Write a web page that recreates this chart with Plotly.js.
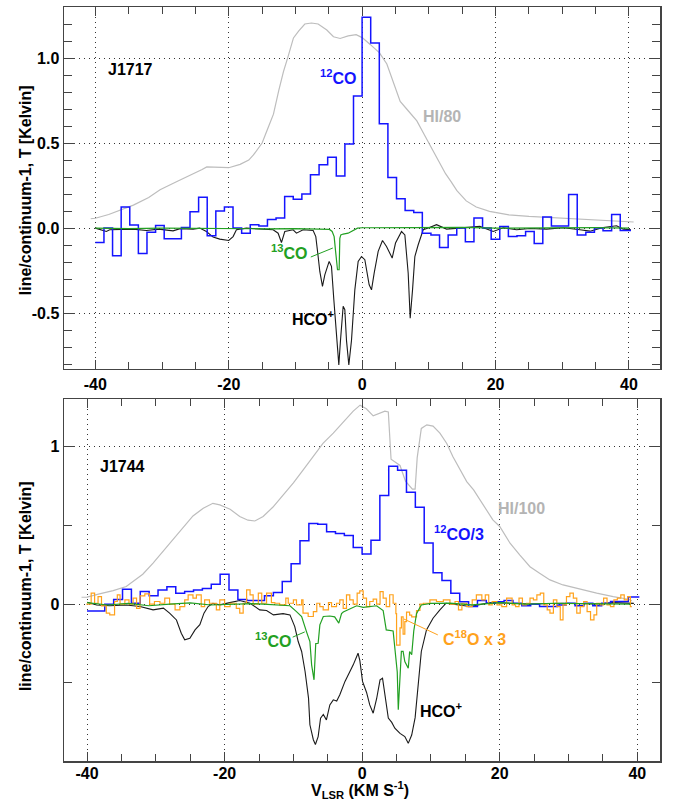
<!DOCTYPE html>
<html>
<head>
<meta charset="utf-8">
<script src="https://cdn.plot.ly/plotly-3.0.1.min.js"></script>
<style>html,body{margin:0;padding:0;background:#fff;}#plot{width:678px;height:803px;}</style>
</head>
<body>
<div id="plot"></div>
<script>
// ---------- shared CO channel grid (left bin edges, km/s) ----------
var coEdges = [-40.00,-38.71,-37.42,-36.13,-34.84,-33.55,-32.26,-30.97,-29.68,-28.39,-27.10,-25.81,-24.52,-23.23,-21.94,-20.65,-19.36,-18.07,-16.78,-15.49,-14.20,-12.91,-11.62,-10.33,-9.04,-7.75,-6.46,-5.17,-3.88,-2.59,-1.30,-0.01,1.28,2.57,3.86,5.15,6.44,7.73,9.02,10.31,11.60,12.89,14.18,15.47,16.76,18.05,19.34,20.63,21.92,23.21,24.50,25.79,27.08,28.37,29.66,30.95,32.24,33.53,34.82,36.11,37.40,38.69,40.30];

// ---------- J1717 (top panel) ----------
var j1717_co12 = [-0.084,0.0,-0.163,0.124,0.018,-0.15,-0.024,0.016,-0.063,-0.063,0.004,0.096,0.182,-0.045,0.1,0.124,0.0,-0.03,0.02,0.013,0.05,0.06,0.186,0.170,0.2,0.313,0.372,0.417,0.307,0.494,0.776,
  1.24,1.088,0.614,0.298,0.173,0.104,0.092,-0.03,-0.04,-0.114,-0.04,0.0,-0.08,0.06,0.0,-0.065,0.01,-0.05,-0.045,-0.02,-0.09,0.065,0.012,0.012,0.197,-0.04,-0.025,0.0,-0.015,0.08,-0.014,-0.014];

var j1717_hi_v = [-40.7,-40,-38,-36,-34.3,-32,-30.3,-28,-26.3,-24,-23.3,-21.5,-20,-18.3,-17,-16.3,-15,-14,-13.3,-12.5,-11.8,-11.1,-10.3,-9.5,-8.6,-7.6,-6.6,-5.3,-4.3,-3.3,-2.1,-0.9,0,1.2,2.6,3.7,4.7,5.7,6.9,8.2,9.3,10.3,11.5,12.5,13.3,14.2,15.6,17.1,19.1,22,25,30,35,40.7];
var j1717_hi_t = [0.055,0.058,0.08,0.11,0.135,0.18,0.225,0.27,0.30,0.345,0.36,0.355,0.355,0.375,0.40,0.43,0.50,0.60,0.67,0.81,0.92,1.01,1.118,1.16,1.20,1.206,1.2,1.165,1.125,1.115,1.13,1.137,1.12,1.08,1.03,0.965,0.85,0.745,0.69,0.63,0.55,0.48,0.39,0.32,0.275,0.22,0.16,0.124,0.098,0.078,0.069,0.059,0.049,0.036];

var j1717_hco_v = [-40,-38.35,-37.85,-36,-34.35,-32.35,-30.5,-28.35,-27.3,-25.35,-24.35,-23.35,-22.35,-21.35,-20,-19.35,-18.85,-17.35,-15.35,-13.35,-12.6,-12.1,-11.6,-10.35,-9.85,-8.85,-7.35,-6.95,-6.6,-6.35,-5.95,-5.6,-4.95,-4.6,-4.25,-3.85,-3.5,-3.25,-2.85,-2.6,-2.35,-2.0,-1.6,-1.1,-0.6,-0.1,0.4,1.05,1.4,1.8,2.4,3.05,3.65,4.5,5.0,5.9,6.4,6.9,7.2,7.55,7.9,8.4,9.15,9.9,11.15,12.65,15.15,17.65,19.65,21.15,23.15,25.15,27.65,30.15,32.65,34.15,36.15,38.15,39.15,40.3];
var j1717_hco_t = [0.0,-0.02,-0.01,-0.006,-0.006,-0.014,-0.006,-0.016,-0.003,-0.006,0.0,-0.02,-0.053,-0.065,-0.073,-0.05,-0.01,0.0,-0.006,-0.01,-0.03,-0.085,-0.02,-0.01,-0.03,-0.01,-0.014,-0.05,-0.167,-0.255,-0.343,-0.275,-0.196,-0.225,-0.42,-0.657,-0.804,-0.66,-0.46,-0.48,-0.66,-0.804,-0.66,-0.363,-0.196,-0.167,-0.186,-0.333,-0.363,-0.265,-0.137,-0.073,-0.108,-0.176,-0.088,-0.02,-0.04,-0.265,-0.53,-0.363,-0.167,-0.098,-0.01,0.0,0.02,-0.006,0.0,0.01,-0.02,0.002,-0.01,-0.002,-0.006,0.002,-0.01,-0.018,0.004,0.014,-0.006,-0.01];

var j1717_co13_v = [-40,-35,-30,-25,-20,-15,-10,-7,-4.9,-4.5,-4.2,-4.0,-3.8,-3.7,-3.45,-3.35,-3.2,-2.85,-2.1,-1.3,-0.7,0,5,10,15,20,25,30,35,40];
var j1717_co13_t = [0.0,-0.003,0.0,-0.002,0.0,-0.004,-0.003,-0.005,-0.008,-0.02,-0.05,-0.13,-0.2,-0.245,-0.245,-0.06,-0.04,-0.035,-0.03,-0.015,0.0,0.002,0.003,0.0,0.004,0.0,0.002,0.0,0.003,0.0];

// ---------- J1744 (bottom panel) ----------
var j1744_co12 = [-0.043,-0.043,0.0,0.03,0.095,0.006,0.08,0.053,0.09,0.11,0.07,0.08,0.09,0.1,0.127,0.19,0.09,0.03,0.023,0.023,0.053,0.074,0.144,0.256,0.403,0.512,0.508,0.46,0.448,0.436,0.36,
  0.319,0.405,0.69,0.875,0.85,0.71,0.615,0.388,0.2,0.15,0.07,0.015,-0.015,0.023,0.006,0.015,0.023,0.006,-0.01,0.0,-0.015,-0.015,-0.005,0.006,-0.01,0.006,-0.01,0.006,0.017,0.017,0.045,0.045];

var j1744_hi_v = [-40.8,-40,-38.2,-36.2,-34.3,-33.3,-31.9,-30.4,-29,-27.5,-26,-24.6,-23.1,-21.7,-20.7,-19.2,-17.8,-16.6,-15.6,-14.4,-13,-11.5,-10,-8.6,-7.1,-5.7,-4.2,-2.8,-1.3,-0.3,0.6,1.6,2.6,3.3,3.8,4.2,5.5,6.3,7.3,7.7,8.0,8.6,9.4,10.3,11.3,12.3,13.2,14.2,15.2,16.2,17.6,19.0,20,21.5,22.9,24.4,25.8,27.3,29.2,31.7,34.1,36.5,38.9,39.2];
var j1744_hi_t = [0.044,0.045,0.065,0.086,0.112,0.143,0.19,0.26,0.334,0.408,0.49,0.56,0.609,0.64,0.63,0.603,0.556,0.533,0.528,0.556,0.615,0.69,0.77,0.85,0.935,1.02,1.085,1.155,1.225,1.263,1.24,1.195,1.21,1.225,1.22,0.92,0.88,0.78,0.73,0.73,0.93,1.115,1.138,1.13,1.085,1.02,0.936,0.852,0.778,0.725,0.63,0.535,0.493,0.387,0.313,0.238,0.196,0.154,0.122,0.095,0.07,0.048,0.03,0.02];

var j1744_hco_v = [-40,-38.6,-36.7,-34.3,-32.3,-30.4,-28.9,-28.0,-27.0,-26.3,-25.8,-25.05,-24.3,-23.6,-23.0,-22.4,-21.7,-20.7,-19.25,-17.8,-16.3,-14.9,-13.9,-12.9,-11.5,-10.5,-9.8,-9.3,-8.8,-8.3,-7.8,-7.6,-7.1,-6.8,-6.4,-6.05,-5.65,-5.2,-4.7,-4.2,-3.7,-3.25,-2.5,-2.0,-1.3,-0.6,-0.33,0.05,0.64,1.1,1.6,2.1,2.6,2.96,3.3,3.8,4.3,4.75,5.5,6.2,6.7,7.2,7.7,8.15,8.6,9.35,10.3,11.3,12.2,13.25,15.7,18.6,21,24.4,29.2,34.1,36.5,38.9,39.5];
var j1744_hco_t = [0.012,-0.005,-0.01,-0.005,-0.015,-0.036,-0.025,-0.057,-0.1,-0.184,-0.226,-0.216,-0.163,-0.13,-0.057,-0.015,0.005,-0.004,0.01,0.023,0.006,-0.036,-0.04,-0.068,-0.06,-0.068,-0.142,-0.237,-0.30,-0.427,-0.596,-0.765,-0.86,-0.89,-0.84,-0.723,-0.70,-0.734,-0.639,-0.607,-0.615,-0.575,-0.49,-0.45,-0.385,-0.311,-0.36,-0.49,-0.56,-0.639,-0.692,-0.6,-0.48,-0.47,-0.58,-0.723,-0.75,-0.787,-0.82,-0.84,-0.883,-0.83,-0.72,-0.51,-0.30,-0.163,-0.089,-0.036,0.006,0.0,-0.015,0.01,0.006,0.001,0.006,0.001,0.01,0.006,0.005];

var j1744_co13_v = [-40,-37,-34,-31,-28,-25,-22,-19.2,-16,-14.4,-12,-10.5,-9.55,-8.8,-8.1,-7.6,-7.35,-7.0,-6.75,-6.4,-6.15,-5.65,-4.7,-4.0,-3.4,-3.0,-2.75,-1.8,-0.8,0.15,2.1,3.05,3.5,4.5,4.75,5.1,5.25,5.5,5.7,5.95,6.2,6.7,6.9,7.2,7.5,7.9,8.6,10,12.75,16,20,24,28,32,36,39];
var j1744_co13_t = [0.01,-0.005,0.005,-0.01,0.0,0.008,-0.005,0.0,0.004,0.0,-0.006,-0.01,-0.047,-0.078,-0.174,-0.237,-0.385,-0.48,-0.25,-0.248,-0.131,-0.078,-0.075,-0.08,-0.12,-0.06,-0.05,-0.03,-0.01,-0.02,-0.01,-0.04,-0.163,-0.17,-0.29,-0.43,-0.67,-0.45,-0.3,-0.3,-0.364,-0.406,-0.3,-0.32,-0.17,-0.06,-0.005,0.005,0.007,-0.004,0.01,0.0,0.006,0.003,0.002,0.0];

var j1744_c18o_v = [-40.1,-39.4,-38.9,-38.4,-37.9,-37.2,-36.7,-36.0,-35.6,-35.2,-34.5,-33.9,-33.3,-32.8,-32.3,-31.6,-30.9,-30.2,-29.4,-28.7,-28.0,-27.2,-26.5,-25.8,-25.3,-24.6,-24.1,-23.4,-22.9,-22.2,-21.2,-20.7,-20.0,-19.2,-18.3,-17.8,-17.3,-16.8,-16.3,-15.85,-15.1,-14.6,-13.9,-13.2,-12.7,-12.0,-11.1,-10.75,-10.0,-9.55,-8.8,-8.6,-7.85,-7.1,-6.6,-6.15,-5.67,-4.9,-4.45,-3.73,-3.25,-2.76,-2.28,-1.8,-1.3,-0.73,-0.35,0.15,0.63,1.1,1.6,2.1,2.6,3.05,3.5,4.0,4.5,4.9,5.0,5.5,5.7,5.95,6.2,6.45,6.9,7.2,7.9,8.4,8.9,9.85,10.8,11.8,12.76,13.5,14.0,14.5,15.2,16.0,16.6,17.4,17.9,18.4,18.9,19.6,20.3,21.0,21.8,22.3,22.8,23.3,23.9,24.4,24.9,25.4,25.9,26.4,26.9,27.3,27.8,28.3,28.8,29.2,29.7,30.2,30.7,31.2,31.7,32.2,32.7,33.2,33.7,34.1,34.6,35.1,35.6,36.1,36.6,37.1,37.6,38.1,38.6,39.0,39.2];
var j1744_c18o_t = [0.0,0.07,0.006,0.048,-0.011,-0.057,-0.068,0.017,0.059,0.0,0.027,0.0,0.038,-0.026,0.053,0.065,0.0,0.017,0.006,0.038,0.0,-0.036,-0.015,0.027,0.059,0.038,0.059,-0.015,0.027,0.006,-0.036,0.027,-0.015,0.006,-0.026,-0.057,0.006,0.091,0.059,0.0,0.07,0.006,0.07,0.01,0.006,-0.004,0.038,0.006,0.027,-0.004,0.027,-0.057,-0.078,-0.047,0.006,-0.015,-0.036,0.01,-0.015,0.006,0.027,-0.026,0.059,0.027,0.0,0.07,0.085,0.038,-0.015,0.017,0.032,0.0,0.08,0.038,-0.015,0.06,0.006,-0.06,-0.26,-0.15,-0.08,-0.19,-0.11,-0.05,-0.07,-0.08,-0.04,0.0,0.006,0.027,0.017,0.027,0.0,0.017,-0.036,0.006,-0.015,0.027,0.059,0.027,0.059,-0.004,0.017,-0.004,-0.015,0.038,-0.004,-0.015,0.038,-0.004,0.006,0.038,0.027,0.059,0.07,-0.004,-0.036,-0.057,0.027,-0.015,-0.1,-0.004,0.048,0.07,0.038,-0.057,-0.015,0.017,-0.047,-0.1,-0.068,0.006,-0.004,0.038,-0.004,-0.015,0.027,0.038,0.059,0.027,0.048,-0.015,-0.015];

// ---------- tick labels ----------
var xTickVals = [-40,-20,0,20,40];
var xTickText = ['-40','-20','0','20','40'];
var topYTickVals = [-0.5,0,0.5,1];
var topYTickText = ['-0.5','0.0','0.5','1.0'];
var botYTickVals = [0,1];
var botYTickText = ['0','1'];

var FONT = 'Liberation Sans, Arial, Helvetica, sans-serif';
var BLUE = '#1414ff', GRAY = '#bdbdbd', GREEN = '#22a022', BLACK = '#1a1a1a', ORANGE = '#ffa21c';

function tr(x, y, color, w, shape, xa, ya) {
  return {x: x, y: y, type: 'scatter', mode: 'lines', xaxis: xa, yaxis: ya,
          line: {color: color, width: w, shape: shape}, hoverinfo: 'skip', showlegend: false};
}

var data = [
  tr(j1717_hi_v, j1717_hi_t, GRAY, 1.2, 'linear', 'x', 'y'),
  tr(j1717_hco_v, j1717_hco_t, BLACK, 1.1, 'linear', 'x', 'y'),
  tr(coEdges, j1717_co12, BLUE, 1.5, 'hv', 'x', 'y'),
  tr(j1717_co13_v, j1717_co13_t, GREEN, 1.2, 'linear', 'x', 'y'),

  tr(j1744_hi_v, j1744_hi_t, GRAY, 1.2, 'linear', 'x2', 'y2'),
  tr(j1744_hco_v, j1744_hco_t, BLACK, 1.1, 'linear', 'x2', 'y2'),
  tr(coEdges, j1744_co12, BLUE, 1.5, 'hv', 'x2', 'y2'),
  tr(j1744_c18o_v, j1744_c18o_t, ORANGE, 1.2, 'hv', 'x2', 'y2'),
  tr(j1744_co13_v, j1744_co13_t, GREEN, 1.2, 'linear', 'x2', 'y2')
];

function xAxis(range, anchor, standoff) {
  return {domain: [0, 1], range: range, anchor: anchor,
    tickmode: 'array', tickvals: xTickVals, ticktext: xTickText,
    ticks: 'inside', ticklen: 9, tickwidth: 1, tickcolor: '#444',
    ticklabelstandoff: standoff,
    minor: {tickmode: 'linear', tick0: 0, dtick: 5, ticks: 'inside', ticklen: 7, tickwidth: 1, tickcolor: '#444', showgrid: false},
    showgrid: true, gridcolor: '#333', gridwidth: 1, griddash: '1px,4px',
    showline: true, linecolor: '#444', linewidth: 1.5, mirror: 'allticks', zeroline: false,
    tickfont: {family: FONT, size: 16, color: '#000', weight: 'bold'}};
}
function yAxis(domain, range, anchor, tv, tt, minorStep) {
  return {domain: domain, range: range, anchor: anchor,
    tickmode: 'array', tickvals: tv, ticktext: tt,
    ticks: 'inside', ticklen: 11, tickwidth: 1, tickcolor: '#444',
    minor: {tickmode: 'linear', tick0: 0, dtick: minorStep, ticks: 'inside', ticklen: 8, tickwidth: 1, tickcolor: '#444', showgrid: false},
    showgrid: true, gridcolor: '#333', gridwidth: 1, griddash: '1px,4px',
    showline: true, linecolor: '#444', linewidth: 1.5, mirror: 'allticks', zeroline: false,
    tickfont: {family: FONT, size: 16, color: '#000', weight: 'bold'}};
}

function ann(text, x, y, color, xr, yr, extra) {
  var a = {text: text, x: x, y: y, xref: xr, yref: yr, showarrow: false,
    xanchor: 'center', yanchor: 'middle',
    font: {family: FONT, size: 16, color: color, weight: 'bold'}};
  if (extra) for (var k in extra) a[k] = extra[k];
  return a;
}

var layout = {
  width: 678, height: 803,
  margin: {l: 64, r: 18, t: 7, b: 42},
  paper_bgcolor: '#fff', plot_bgcolor: '#fff',
  showlegend: false,
  xaxis: xAxis([-44.7, 44.65], 'y', 0),
  yaxis: yAxis([0.52, 1], [-0.828, 1.30], 'x', topYTickVals, topYTickText, 0.1),
  xaxis2: xAxis([-43.35, 43.3], 'y2', -3),
  yaxis2: yAxis([0, 0.4797], [-0.995, 1.30], 'x2', botYTickVals, botYTickText, 0.5),
  annotations: [
    ann('J1717', -34.8, 0.93, '#000', 'x', 'y'),
    ann('<sup>12</sup>CO', -3.6, 0.89, BLUE, 'x', 'y'),
    ann('HI/80', 11.9, 0.654, '#b4b4b4', 'x', 'y'),
    ann('<sup>13</sup>CO', -10.9, -0.14, GREEN, 'x', 'y'),
    ann('HCO<sup>+</sup>', -7.3, -0.528, '#000', 'x', 'y'),

    ann('J1744', -34.8, 0.871, '#000', 'x2', 'y2'),
    ann('<sup>12</sup>CO/3', 14.1, 0.45, BLUE, 'x2', 'y2'),
    ann('HI/100', 23.2, 0.605, '#b4b4b4', 'x2', 'y2'),
    ann('<sup>13</sup>CO', -13.0, -0.227, GREEN, 'x2', 'y2'),
    ann('C<sup>18</sup>O x 3', 16.4, -0.214, ORANGE, 'x2', 'y2'),
    ann('HCO<sup>+</sup>', 11.6, -0.67, '#000', 'x2', 'y2'),

    ann('line/continuum-1, T [Kelvin]', -0.0654, 0.757, '#000', 'paper', 'paper', {textangle: -90}),
    ann('line/continuum-1, T [Kelvin]', -0.0654, 0.232, '#000', 'paper', 'paper', {textangle: -90}),
    ann('V<sub>LSR</sub> (KM S<sup>-1</sup>)', 0.4966, -0.039, '#000', 'paper', 'paper', {font: {family: FONT, size: 16, color: '#000', weight: 'bold'}})
  ],
  shapes: [
    {type: 'line', xref: 'x', yref: 'y', x0: -7.7, y0: -0.17, x1: -4.4, y1: -0.117, line: {color: GREEN, width: 1}},
    {type: 'line', xref: 'x2', yref: 'y2', x0: -10.1, y0: -0.209, x1: -8.35, y1: -0.176, line: {color: GREEN, width: 1}},
    {type: 'line', xref: 'x2', yref: 'y2', x0: 6.07, y0: -0.094, x1: 11.0, y1: -0.195, line: {color: ORANGE, width: 1}}
  ]
};

Plotly.newPlot('plot', data, layout, {staticPlot: true, displayModeBar: false});
</script>
</body>
</html>
